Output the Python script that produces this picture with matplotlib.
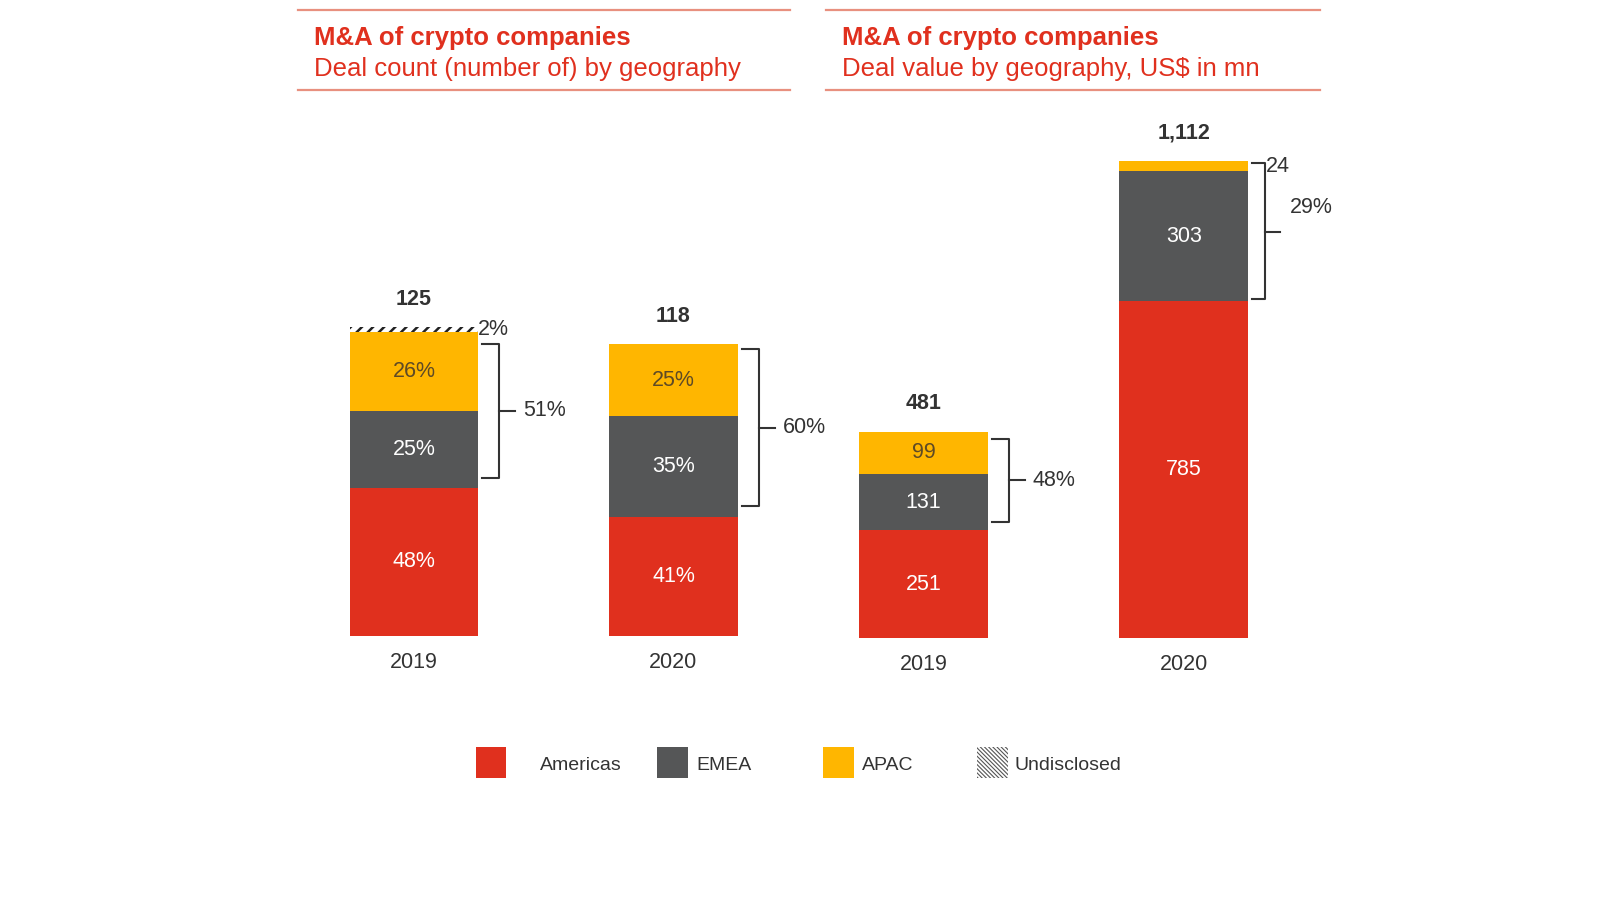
import matplotlib
matplotlib.use("Agg")
import matplotlib.pyplot as plt
from matplotlib.patches import Rectangle

plt.rcParams['font.family'] = ['Liberation Sans', 'DejaVu Sans']

# ---------------- data ----------------
count_years = ['2019', '2020']
count_americas = [60, 48]
count_emea = [31, 41]
count_apac = [32, 29]
count_undisclosed = [2, 0]
count_totals = ['125', '118']
count_lbl_americas = ['48%', '41%']
count_lbl_emea = ['25%', '35%']
count_lbl_apac = ['26%', '25%']
count_lbl_undisclosed = ['2%', '']
count_bracket = ['51%', '60%']

value_years = ['2019', '2020']
value_americas = [251, 785]
value_emea = [131, 303]
value_apac = [99, 24]
value_totals = ['481', '1,112']
value_bracket = ['48%', '29%']

legend_labels = ['Americas', 'EMEA', 'APAC', 'Undisclosed']

RED = '#E0301E'
GREY = '#555657'
YELLOW = '#FFB600'
DARK = '#333333'
APAC_TXT = '#5e4a26'

W, H = 1600, 900
fig = plt.figure(figsize=(16, 9), dpi=100)


def fx(px):
    return px / W


def fy(py):
    return 1 - py / H


# ---------------- header ----------------
for x0, x1, sub in [(298, 790, 'Deal count (number of) by geography'),
                    (826, 1320, 'Deal value by geography, US$ in mn')]:
    fig.add_artist(plt.Line2D([fx(x0), fx(x1)], [fy(10), fy(10)], color='#E8907F', lw=1.6))
    fig.add_artist(plt.Line2D([fx(x0), fx(x1)], [fy(90), fy(90)], color='#E8907F', lw=1.6))
    fig.text(fx(x0 + 16), fy(38), 'M&A of crypto companies', color=RED, fontsize=18.5,
             fontweight='bold', va='center', ha='left')
    fig.text(fx(x0 + 16), fy(69), sub, color=RED, fontsize=18.5, va='center', ha='left')

# ---------------- axes ----------------
axL = fig.add_axes([fx(298), fy(635.7), fx(790) - fx(298), (635.7 - 100) / H])
axR = fig.add_axes([fx(826), fy(637.8), fx(1320) - fx(826), (637.8 - 100) / H])
axL.set_xlim(-0.447, 1.449)
axL.set_ylim(0, 216.9)
axR.set_xlim(-0.375, 1.524)
axR.set_ylim(0, 1254.8)
for ax in (axL, axR):
    ax.axis('off')

BW = 0.495
FS = 15.5


def px_per_unit(ax):
    x0, x1 = ax.get_xlim()
    y0, y1 = ax.get_ylim()
    bb = ax.get_position()
    return bb.width * W / (x1 - x0), bb.height * H / (y1 - y0)


def bracket(ax, xi, ylo, yhi, label, label_dy_px=0):
    xp, yp = px_per_unit(ax)
    xe = xi + BW / 2 + 4 / xp
    xv = xe + 17 / xp
    xt = xv + 16 / xp
    ax.plot([xe, xv, xv, xe], [yhi, yhi, ylo, ylo], color=DARK, lw=1.5,
            solid_joinstyle='round', clip_on=False)
    ym = (ylo + yhi) / 2
    ax.plot([xv, xt], [ym, ym], color=DARK, lw=1.5, clip_on=False)
    ax.text(xt + 8 / xp, ym + label_dy_px / yp, label, fontsize=FS, color=DARK,
            ha='left', va='center')


# left chart: deal count
xL = list(range(len(count_years)))
bottom = [0] * len(xL)
axL.bar(xL, count_americas, BW, color=RED, bottom=bottom)
for i in xL:
    axL.text(i, bottom[i] + count_americas[i] / 2, count_lbl_americas[i], color='white',
             fontsize=FS, ha='center', va='center')
bottom = [b + v for b, v in zip(bottom, count_americas)]
axL.bar(xL, count_emea, BW, color=GREY, bottom=bottom)
for i in xL:
    axL.text(i, bottom[i] + count_emea[i] / 2, count_lbl_emea[i], color='white',
             fontsize=FS, ha='center', va='center')
emea_bot_L = list(bottom)
bottom = [b + v for b, v in zip(bottom, count_emea)]
axL.bar(xL, count_apac, BW, color=YELLOW, bottom=bottom)
for i in xL:
    axL.text(i, bottom[i] + count_apac[i] / 2, count_lbl_apac[i], color=APAC_TXT,
             fontsize=FS, ha='center', va='center')
bottom = [b + v for b, v in zip(bottom, count_apac)]
apac_top_L = list(bottom)
with plt.rc_context({'hatch.linewidth': 1.8}):
    axL.bar(xL, count_undisclosed, BW, color='white', bottom=bottom, hatch='///',
            edgecolor='#222222', linewidth=0)
xp, yp = px_per_unit(axL)
for i in xL:
    if count_undisclosed[i]:
        axL.text(i + BW / 2, bottom[i] + count_undisclosed[i] / 2, count_lbl_undisclosed[i],
                 fontsize=FS, color=DARK, ha='left', va='center')
bottom = [b + v for b, v in zip(bottom, count_undisclosed)]
for i in xL:
    axL.annotate(count_totals[i], (i, bottom[i]), xytext=(0, 20), textcoords='offset points',
                 ha='center', va='center', fontsize=FS, fontweight='bold', color=DARK)
    axL.annotate(count_years[i], (i, 0), xytext=(0, -19.5), textcoords='offset points',
                 ha='center', va='center', fontsize=FS, color=DARK)
bracket(axL, 0, emea_bot_L[0] + 4, apac_top_L[0] - 5, count_bracket[0])
bracket(axL, 1, emea_bot_L[1] + 4.5, apac_top_L[1] - 2, count_bracket[1])

# right chart: deal value
xR = list(range(len(value_years)))
bottom = [0] * len(xR)
axR.bar(xR, value_americas, BW, color=RED, bottom=bottom)
for i in xR:
    axR.text(i, bottom[i] + value_americas[i] / 2, str(value_americas[i]), color='white',
             fontsize=FS, ha='center', va='center')
bottom = [b + v for b, v in zip(bottom, value_americas)]
emea_bot_R = list(bottom)
axR.bar(xR, value_emea, BW, color=GREY, bottom=bottom)
for i in xR:
    axR.text(i, bottom[i] + value_emea[i] / 2, str(value_emea[i]), color='white',
             fontsize=FS, ha='center', va='center')
bottom = [b + v for b, v in zip(bottom, value_emea)]
axR.bar(xR, value_apac, BW, color=YELLOW, bottom=bottom)
xp, yp = px_per_unit(axR)
for i in xR:
    if value_apac[i] > 50:
        axR.text(i, bottom[i] + value_apac[i] / 2, str(value_apac[i]), color=APAC_TXT,
                 fontsize=FS, ha='center', va='center')
    else:
        axR.text(i + BW / 2 + 18 / xp, bottom[i] + value_apac[i] / 2, str(value_apac[i]),
                 color=DARK, fontsize=FS, ha='left', va='center')
bottom = [b + v for b, v in zip(bottom, value_apac)]
for i in xR:
    axR.annotate(value_totals[i], (i, bottom[i]), xytext=(0, 20), textcoords='offset points',
                 ha='center', va='center', fontsize=FS, fontweight='bold', color=DARK)
    axR.annotate(value_years[i], (i, 0), xytext=(0, -19), textcoords='offset points',
                 ha='center', va='center', fontsize=FS, color=DARK)
bracket(axR, 0, emea_bot_R[0] + 20, bottom[0] - 17, value_bracket[0])
# 2020 value bracket: label sits above the tick
xv = 1 + BW / 2 + 4 / xp
axR.plot([xv, xv + 13 / xp, xv + 13 / xp, xv],
         [bottom[1] - 5, bottom[1] - 5, emea_bot_R[1] + 5, emea_bot_R[1] + 5],
         color=DARK, lw=1.5, clip_on=False)
ytick = bottom[1] - 165
axR.plot([xv + 13 / xp, xv + 28 / xp], [ytick, ytick],
         color=DARK, lw=1.5, clip_on=False)
axR.text(xv + 38 / xp, ytick + 24 / yp, value_bracket[1], fontsize=FS,
         color=DARK, ha='left', va='center')

# ---------------- legend ----------------
sq = 31
leg = [(475.5, 540, RED, None), (657, 696, GREY, None),
       (822.5, 862, YELLOW, None), (976.5, 1015, 'white', '\\' * 8)]
for (sx, tx, col, hatch), lab in zip(leg, legend_labels):
    with plt.rc_context({'hatch.linewidth': 0.8}):
        r = Rectangle((fx(sx), fy(777.6)), sq / W, sq / H, transform=fig.transFigure,
                      facecolor=col, edgecolor='#555555' if hatch else col, lw=0, hatch=hatch)
    fig.add_artist(r)
    fig.text(fx(tx), fy(765), lab, fontsize=14, color=DARK, ha='left', va='center')

fig.savefig('out.png', dpi=100, facecolor='white')
